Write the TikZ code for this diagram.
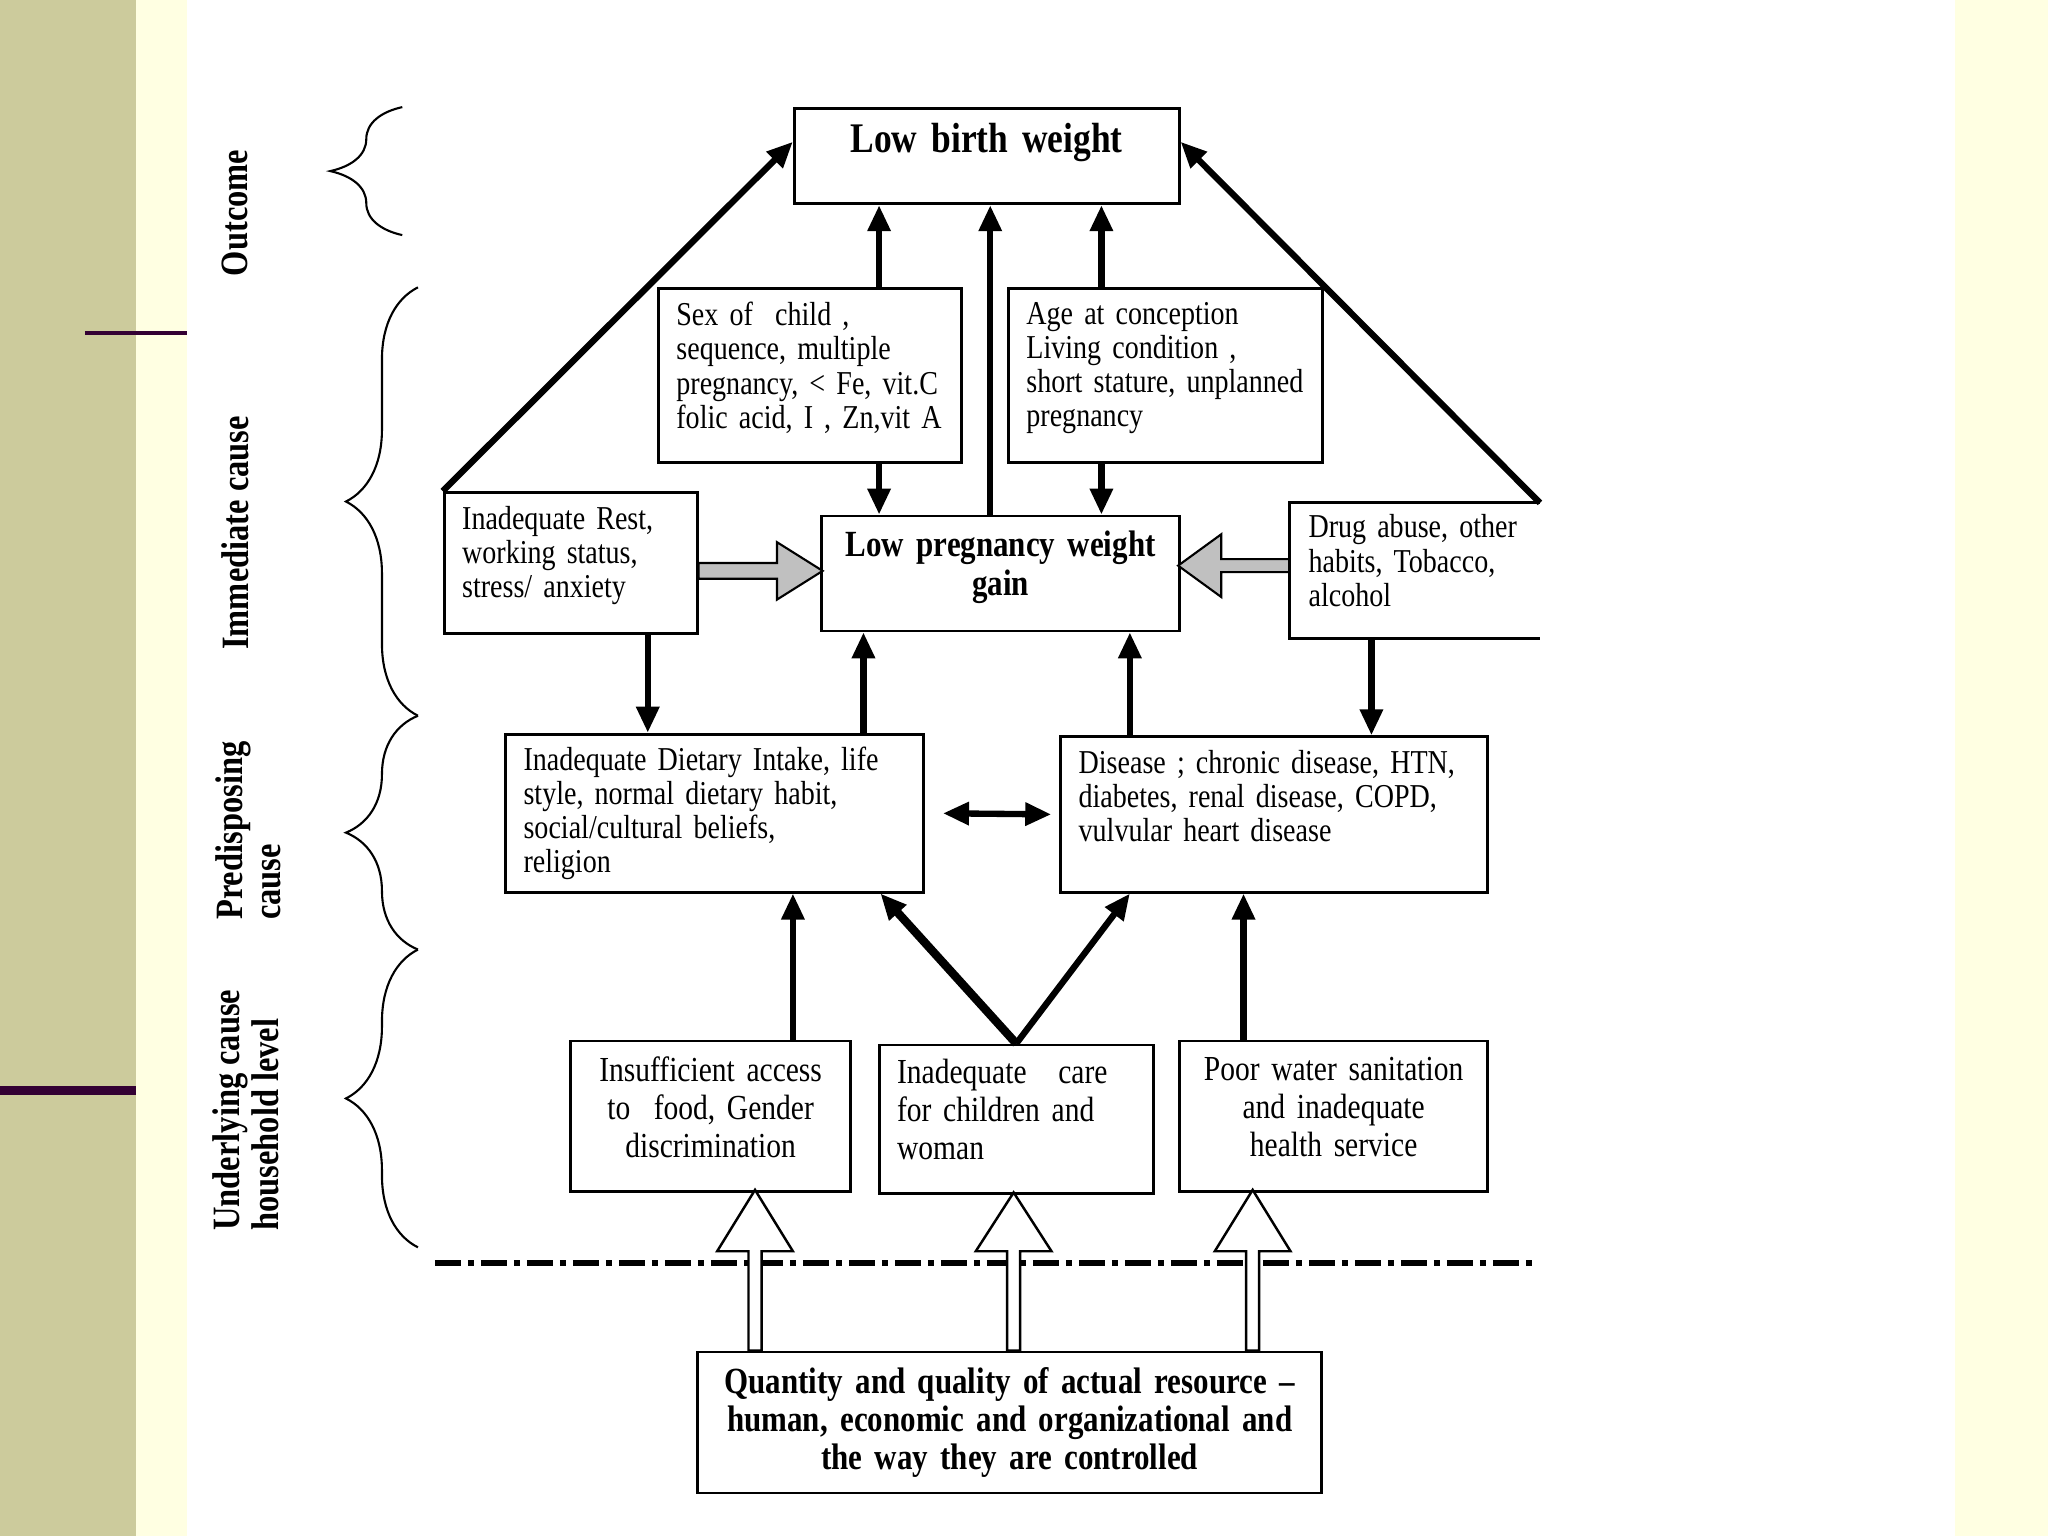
\documentclass[tikz,border=0pt]{standalone}
\usepackage{fontspec}
\setmainfont{Liberation Serif}[FakeStretch=0.84]
\usepackage{tikz}
\usetikzlibrary{arrows.meta}
\usetikzlibrary{calc}
\usetikzlibrary{positioning}
\usetikzlibrary{decorations.pathreplacing}
\definecolor{slide-olive}{HTML}{CCCB9C}
\definecolor{slide-cream}{HTML}{FFFFE2}
\definecolor{slide-purple}{HTML}{330033}
\definecolor{block-grey}{HTML}{C0C0C0}
\tikzstyle{block} = [draw=black, fill=white, line width=0.8pt, inner xsep=0.18cm, inner ysep=0.1cm, align=left, anchor=north west]
\tikzstyle{ln} = [draw, line width=1.8pt, -{Triangle[length=0.26cm, width=0.22cm]}]
\tikzstyle{hollow} = [draw=black, fill=white, line width=0.7pt]

\begin{document}
\begin{tikzpicture}[x=0.013061cm, y=-0.013061cm,
        cause-block/.style={block, font={\fontsize{9.5}{9.7}\selectfont}},
        lower-block/.style={block, align=center, font={\fontsize{10}{10.8}\selectfont}},
        title-block/.style={block, align=center, font={\bfseries\fontsize{10.5}{10.9}\selectfont}},
        side-label/.style={rotate=90, align=left, font={\bfseries\fontsize{11}{11}\selectfont}},
        brace-line/.style={decorate, decoration={brace, amplitude=0.72cm}, line width=0.6pt},
        grey-block/.style={draw=black, fill=block-grey, line width=0.6pt},
        sep-line/.style={line width=1.8pt, dash pattern=on 0.26cm off 0.07cm on 0.06cm off 0.07cm}
      ]
      \useasboundingbox (0,0) rectangle (1568,1176);
      % slide background
      \fill[slide-cream]  (0,0) rectangle (1568,1176);
      \fill[white]        (143,0) rectangle (1497,1176);
      \fill[slide-olive]  (0,0) rectangle (104,1176);
      \draw[slide-purple, line width=1.1pt] (65,255) -- (143,255);
      \draw[slide-purple, line width=2.6pt] (0,835) -- (104,835);

      % levels
      \draw[brace-line]        (308,180) -- (308,82);
      \draw[brace-line]        (320,548) -- (320,220);
      \draw[brace-line]        (320,727) -- (320,548);
      \draw[brace-line]        (320,955) -- (320,727);
      \node[side-label]        (outcome-label)      at (180,163)   {Outcome};
      \node[side-label]        (immediate-label)    at (180,408)   {Immediate cause};
      \node[side-label]        (predisposing-label) at (190,636)   {Predisposing\\cause};
      \node[side-label]        (underlying-label)   at (188,850)   {Underlying cause\\household level};

      % boxes
      \node[title-block, text width=3.49cm, minimum height=0.953cm, text depth=0.37cm, font={\bfseries\fontsize{12}{13}\selectfont}] (lbw) at (607,82) {Low birth weight};
      \node[cause-block, text width=2.67cm, minimum height=1.737cm, text depth=1.23cm]   (sex)     at (503,220)  {Sex of~ child ,\\sequence, multiple\\pregnancy, < Fe, vit.C\\folic acid, I , Zn,vit A};
      \node[cause-block, text width=2.78cm, minimum height=1.737cm, text depth=1.25cm]   (age)     at (771,220)  {Age at conception\\Living condition ,\\short stature, unplanned\\pregnancy};
      \node[cause-block, text width=2.17cm, minimum height=1.411cm, text depth=0.91cm]   (rest)    at (339,376)  {Inadequate Rest,\\working status,\\stress/ anxiety};
      \node[title-block, text width=3.22cm, minimum height=1.149cm, text depth=0.59cm]   (lpwg)    at (628,394)  {Low pregnancy weight\\gain};
      \node[cause-block, draw=none, text width=2.12cm, minimum height=1.332cm, text depth=0.89cm] (drug) at (987,385) {Drug abuse, other\\habits, Tobacco,\\alcohol};
      \node[cause-block, text width=3.82cm, minimum height=1.580cm]   (diet)    at (386,561)  {Inadequate Dietary Intake, life\\style, normal dietary habit,\\social/cultural beliefs,\\religion};
      \node[cause-block, text width=3.91cm, minimum height=1.554cm, text depth=1.05cm] (disease) at (811,563) {Disease ; chronic disease, HTN,\\diabetes, renal disease, COPD,\\vulvular heart disease};
      \node[lower-block, text width=2.435cm, minimum height=1.502cm, text depth=0.94cm]  (access)  at (436,796)  {Insufficient access\\to~ food, Gender\\discrimination};
      \node[lower-block, align=left, text width=2.383cm, minimum height=1.489cm, text depth=0.97cm] (care) at (672,799) {Inadequate\hspace{0.2cm} care\\for children and\\woman};
      \node[lower-block, text width=2.722cm, minimum height=1.502cm, text depth=0.94cm]  (water)   at (902,796)  {Poor water sanitation\\and inadequate\\health service};
      \node[title-block, text width=5.883cm, minimum height=1.411cm]  (res)     at (533,1034) {Quantity and quality of actual resource –\\human, economic and organizational and\\the way they are controlled};
      \draw[line width=0.8pt]  (drug.north east) -- (drug.north west) -- (drug.south west) -- (drug.south east);

      % causal links
      \draw[ln]                (rest.north west)                   --    ($(lbw.west)+(0,-11)$);
      \draw[ln]                (drug.north east)                   --    ($(lbw.east)+(0,-11)$);
      \draw[ln]                ([xshift=0.692cm]sex.north)         --    ([xshift=0.692cm]sex.north |- lbw.south);
      \draw[ln]                ([xshift=-0.104cm]lpwg.north)       --    ([xshift=-0.104cm]lpwg.north |- lbw.south);
      \draw[ln]                ([xshift=-0.640cm]age.north)        --    ([xshift=-0.640cm]age.north |- lbw.south);
      \draw[ln]                ([xshift=0.692cm]sex.south)         --    ([xshift=0.692cm]sex.south |- lpwg.north);
      \draw[ln]                ([xshift=-0.640cm]age.south)        --    ([xshift=-0.640cm]age.south |- lpwg.north);
      \draw[ln]                ([xshift=0.771cm]rest.south)        --    ([xshift=0.771cm]rest.south |- diet.north);
      \draw[ln]                ([xshift=1.489cm]diet.north)        --    ([xshift=1.489cm]diet.north |- lpwg.south);
      \draw[ln]                ([xshift=-1.443cm]disease.north)    --    ([xshift=-1.443cm]disease.north |- lpwg.south);
      \draw[ln]                ([xshift=-0.431cm]drug.south)       --    ([xshift=-0.431cm]drug.south |- disease.north);
      \draw[ln, {Triangle[length=0.26cm, width=0.22cm]}-{Triangle[length=0.26cm, width=0.22cm]}, shorten <=0.18cm, shorten >=0.08cm] (diet.east) -- (disease.west);
      \draw[ln]                ([xshift=0.823cm]access.north)      --    ([xshift=0.823cm]access.north |- diet.south);
      \draw[ln, line width=2.4pt] (care.north)                     --    ([xshift=1.659cm]diet.south);
      \draw[ln]                (care.north)                        --    ([xshift=-1.443cm]disease.south);
      \draw[ln]                ([xshift=-0.901cm]water.north)      --    ([xshift=-0.901cm]water.north |- disease.south);

      % grey block arrows
      \draw[grey-block]        (rest.east) -- ++(60,0) -- ++(0,-16) -- ++(35,22) -- ++(-35,22) -- ++(0,-16) -- ++(-60,0) -- cycle;
      \draw[grey-block]        ($(drug.west)+(0,-9)$) -- ++(-52,0) -- ++(0,-19) -- ++(-33,24) -- ++(33,24) -- ++(0,-19) -- ++(52,0) -- cycle;

      % household line and resource arrows
      \coordinate              (sep-l) at (333,967);
      \coordinate              (sep-r) at (1175,967);
      \draw[sep-line]          (sep-l) -- (sep-r);
      \draw[hollow]            ($(res.north)+(-200,0)$) -- ++(0,-76) -- ++(-24,0) -- ++(29,-47) -- ++(29,47) -- ++(-24,0) -- ++(0,76) -- cycle;
      \draw[hollow]            ($(res.north)+(-2,0)$) -- ++(0,-76) -- ++(-24,0) -- ++(29,-45) -- ++(29,45) -- ++(-24,0) -- ++(0,76) -- cycle;
      \draw[hollow]            ($(res.north)+(181,0)$) -- ++(0,-76) -- ++(-24,0) -- ++(29,-47) -- ++(29,47) -- ++(-24,0) -- ++(0,76) -- cycle;
    \end{tikzpicture}
\end{document}
